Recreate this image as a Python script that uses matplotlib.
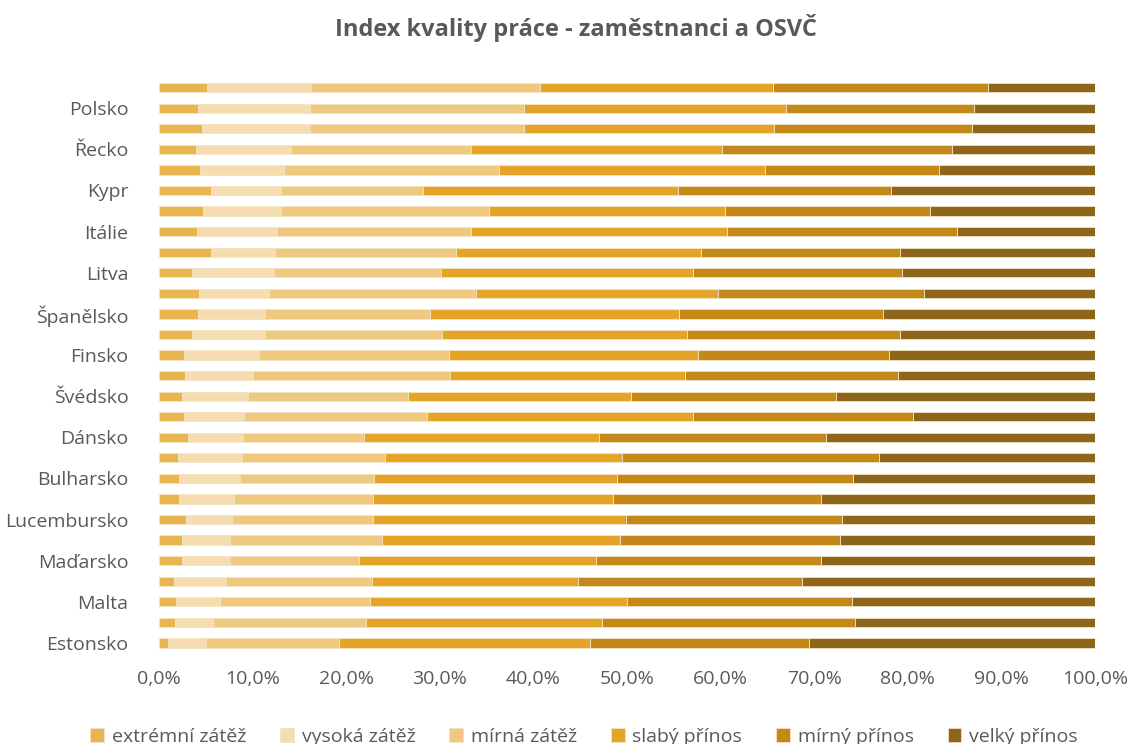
import matplotlib.pyplot as plt
import numpy as np
from matplotlib.ticker import FuncFormatter

plt.rcParams['font.family'] = ['Open Sans', 'DejaVu Sans']

# rows from top to bottom, only every other row carries a label
countries = ['', 'Polsko', '', 'Řecko', '', 'Kypr', '', 'Itálie', '', 'Litva',
             '', 'Španělsko', '', 'Finsko', '', 'Švédsko', '', 'Dánsko', '', 'Bulharsko',
             '', 'Lucembursko', '', 'Maďarsko', '', 'Malta', '', 'Estonsko']

series = ['extrémní zátěž', 'vysoká zátěž', 'mírná zátěž', 'slabý přínos', 'mírný přínos', 'velký přínos']

extremni = [5.1, 4.2, 4.6, 4.0, 4.4, 5.6, 4.7, 4.1, 5.6, 3.5, 4.3, 4.2, 3.5, 2.7,
            2.8, 2.5, 2.7, 3.1, 2.0, 2.1, 2.1, 2.9, 2.5, 2.5, 1.6, 1.8, 1.7, 1.0]
vysoka = [11.1, 11.9, 11.5, 10.1, 8.9, 7.4, 8.3, 8.5, 6.8, 8.8, 7.5, 7.1, 7.8, 8.0,
          7.2, 7.0, 6.4, 5.9, 6.9, 6.6, 5.9, 4.9, 5.1, 5.1, 5.6, 4.7, 4.1, 4.0]
mirna = [24.5, 22.9, 22.9, 19.2, 23.0, 15.2, 22.3, 20.7, 19.3, 17.8, 22.1, 17.7, 18.9, 20.3,
         21.1, 17.1, 19.5, 12.9, 15.2, 14.3, 14.9, 15.1, 16.2, 13.8, 15.5, 16.0, 16.3, 14.2]
slaby = [24.9, 28.0, 26.7, 26.8, 28.4, 27.2, 25.2, 27.4, 26.2, 26.9, 25.8, 26.5, 26.2, 26.6,
         25.1, 23.8, 28.4, 25.1, 25.4, 25.9, 25.6, 27.0, 25.4, 25.3, 22.1, 27.5, 25.2, 26.8]
mirny = [23.0, 20.1, 21.1, 24.6, 18.6, 22.8, 21.9, 24.5, 21.3, 22.4, 22.0, 21.8, 22.8, 20.4,
         22.7, 21.9, 23.5, 24.2, 27.4, 25.2, 22.2, 23.1, 23.6, 24.0, 23.9, 24.0, 27.0, 23.4]
velky = [11.4, 12.9, 13.2, 15.3, 16.7, 21.8, 17.6, 14.8, 20.8, 20.6, 18.3, 22.7, 20.8, 22.0,
         21.1, 27.7, 19.5, 28.8, 23.1, 25.9, 29.3, 27.0, 27.2, 29.3, 31.3, 26.0, 25.7, 30.6]

colors = ['#E9B551', '#F5DDAF', '#EFC97F', '#E5A428', '#C38818', '#8E661B']

fig = plt.figure(figsize=(11.36, 7.44), dpi=100)
ax = fig.add_axes([0.14, 0.122, 0.824, 0.774])

y = np.arange(len(countries))
left = np.zeros(len(countries))
for name, vals, col in zip(series, [extremni, vysoka, mirna, slaby, mirny, velky], colors):
    vals = np.array(vals)
    ax.barh(y, vals, left=left, height=0.45, color=col, label=name,
            edgecolor='#F3E3C3', linewidth=0.6)
    left += vals

ax.set_ylim(len(countries) - 0.5, -0.5)
ax.set_xlim(0, 100)
ax.set_yticks(y)
ax.set_yticklabels(countries)
ax.set_xticks(np.arange(0, 101, 10))
ax.xaxis.set_major_formatter(FuncFormatter(lambda v, p: f'{v:.1f}'.replace('.', ',') + '%'))
ax.tick_params(length=0, labelsize=14, colors='#595959')
ax.tick_params(axis='y', pad=22)
ax.tick_params(axis='x', pad=12)
for s in ax.spines.values():
    s.set_visible(False)

fig.text(0.507, 0.962, 'Index kvality práce - zaměstnanci a OSVČ', ha='center', va='center',
         fontsize=17, fontweight='bold', color='#595959')

ax.legend(loc='center', bbox_to_anchor=(0.454, -0.145), ncol=6, frameon=False,
          fontsize=14, handlelength=0.7, handleheight=0.7, handletextpad=0.4, columnspacing=1.75,
          labelcolor='#595959')

fig.savefig('out.png', dpi=100)
